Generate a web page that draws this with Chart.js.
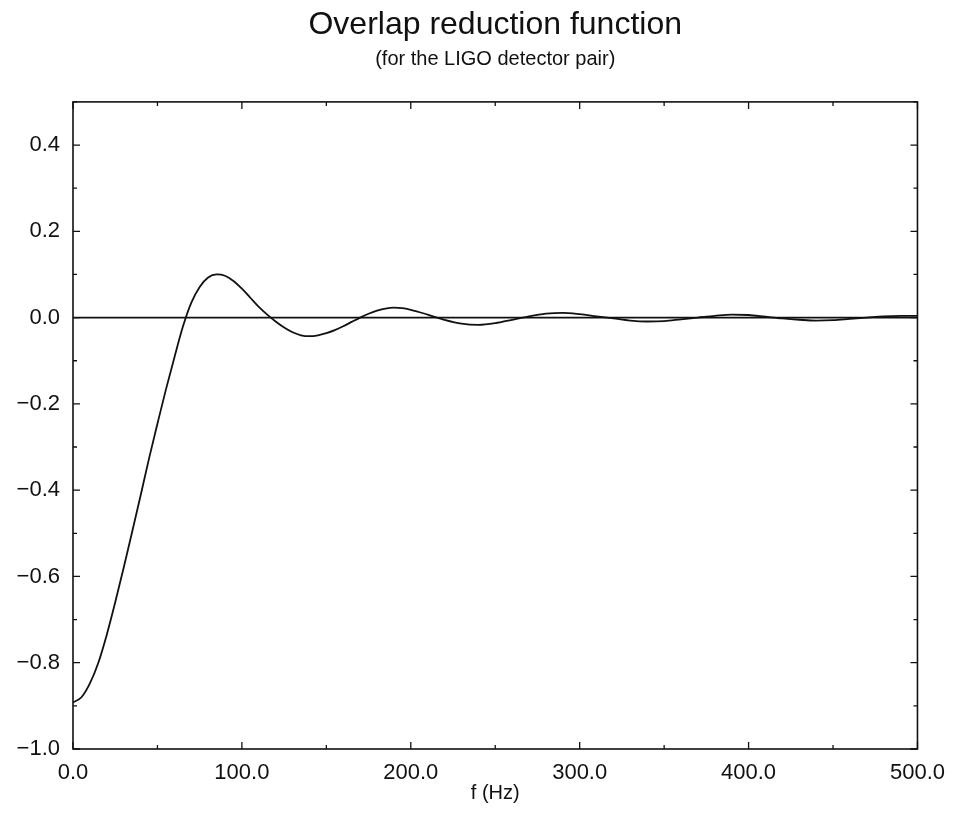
<!DOCTYPE html>
<html>
<head>
<meta charset="utf-8">
<title>Overlap reduction function</title>
<script src="https://cdn.jsdelivr.net/npm/chart.js@4.4.1/dist/chart.umd.min.js"></script>
<style>
  html, body { margin: 0; padding: 0; background: #fff; }
  #wrap { width: 956px; height: 825px; position: relative; }
</style>
</head>
<body>
<div id="wrap"><canvas id="orfChart"></canvas></div>
<script>
// frequency (Hz) and overlap reduction value gamma(f)
const freqs = [
  0, 5, 10, 15, 20, 25, 30, 35, 40, 45, 50, 55, 60, 65, 70, 75, 80, 85, 90, 95,
  100, 105, 110, 115, 120, 125, 130, 135, 140, 145, 150, 155, 160, 165, 170, 175,
  180, 185, 190, 195, 200, 210, 220, 230, 240, 250, 260, 270, 280, 290, 300, 310,
  320, 330, 340, 350, 360, 370, 380, 390, 400, 410, 420, 430, 440, 450, 460, 470,
  480, 490, 500
];
const gamma = [
  -0.892, -0.880, -0.848, -0.800, -0.735, -0.660, -0.580, -0.497, -0.413, -0.327,
  -0.246, -0.167, -0.093, -0.022, 0.034, 0.071, 0.093, 0.100, 0.097, 0.085,
  0.067, 0.046, 0.025, 0.007, -0.009, -0.023, -0.034, -0.041, -0.043, -0.041,
  -0.036, -0.029, -0.020, -0.010, 0.000, 0.009, 0.016, 0.021, 0.023, 0.022,
  0.018, 0.007, -0.005, -0.014, -0.017, -0.013, -0.005, 0.003, 0.009, 0.011,
  0.008, 0.003, -0.002, -0.007, -0.009, -0.008, -0.004, 0.000, 0.004, 0.007,
  0.006, 0.002, -0.002, -0.005, -0.007, -0.006, -0.003, 0.000, 0.003, 0.004,
  0.004
];

const xTicks = [0, 100, 200, 300, 400, 500];
const yTicks = [-1.0, -0.8, -0.6, -0.4, -0.2, 0.0, 0.2, 0.4];

const ink = '#111';
const fontFamily = '"Liberation Sans", Arial, Helvetica, sans-serif';

// box around the plot plus inward major/minor ticks on all four sides
const frameTicks = {
  id: 'frameTicks',
  afterDatasetsDraw(chart) {
    const { ctx, chartArea: a, scales: { x, y } } = chart;
    ctx.save();
    ctx.strokeStyle = ink;
    ctx.lineWidth = 1.6;
    ctx.strokeRect(a.left, a.top, a.right - a.left, a.bottom - a.top);
    ctx.lineWidth = 1.3;
    ctx.beginPath();
    for (let i = 0; i <= 10; i++) {
      const px = x.getPixelForValue(i * 50);
      const len = i % 2 === 0 ? 7 : 4;
      ctx.moveTo(px, a.bottom); ctx.lineTo(px, a.bottom - len);
      ctx.moveTo(px, a.top); ctx.lineTo(px, a.top + len);
    }
    for (let i = 0; i <= 15; i++) {
      const py = y.getPixelForValue(-1 + i * 0.1);
      const len = i % 2 === 0 ? 7 : 4;
      ctx.moveTo(a.left, py); ctx.lineTo(a.left + len, py);
      ctx.moveTo(a.right, py); ctx.lineTo(a.right - len, py);
    }
    ctx.stroke();
    ctx.restore();
  }
};

new Chart(document.getElementById('orfChart'), {
  type: 'line',
  data: {
    datasets: [
      {
        label: 'gamma',
        data: freqs.map((f, i) => ({ x: f, y: gamma[i] })),
        borderColor: ink,
        borderWidth: 1.8,
        pointRadius: 0,
        cubicInterpolationMode: 'monotone',
        fill: false,
      },
      {
        label: 'zero',
        data: [{ x: xTicks[0], y: 0 }, { x: xTicks[xTicks.length - 1], y: 0 }],
        borderColor: ink,
        borderWidth: 1.8,
        pointRadius: 0,
        fill: false,
      },
    ],
  },
  options: {
    responsive: true,
    maintainAspectRatio: false,
    animation: false,
    layout: { padding: { top: 0, right: 38, bottom: 0, left: 0 } },
    plugins: {
      legend: { display: false },
      tooltip: { enabled: false },
      title: {
        display: true,
        fullSize: false,
        text: 'Overlap reduction function',
        color: ink,
        font: { family: fontFamily, size: 32, weight: 'normal' },
        padding: { top: 6, bottom: 3 },
      },
      subtitle: {
        display: true,
        fullSize: false,
        text: '(for the LIGO detector pair)',
        color: ink,
        font: { family: fontFamily, size: 20, weight: 'normal' },
        padding: { top: 0, bottom: 30.5 },
      },
    },
    scales: {
      x: {
        type: 'linear',
        min: 0,
        max: 500,
        afterBuildTicks: (scale) => { scale.ticks = xTicks.map(v => ({ value: v })); },
        afterFit: (scale) => { scale.height = 76; },
        grid: { display: false, drawTicks: false },
        border: { display: false },
        ticks: {
          color: ink,
          padding: 11,
          maxRotation: 0,
          font: { family: fontFamily, size: 22 },
          callback: (v) => Number(v).toFixed(1),
        },
        title: {
          display: true,
          text: 'f (Hz)',
          color: ink,
          font: { family: fontFamily, size: 20 },
          padding: { top: 0, bottom: 20 },
        },
      },
      y: {
        type: 'linear',
        min: -1,
        max: 0.5,
        afterBuildTicks: (scale) => { scale.ticks = yTicks.map(v => ({ value: v })); },
        afterFit: (scale) => { scale.width = 73; },
        grid: { display: false, drawTicks: false },
        border: { display: false },
        ticks: {
          color: ink,
          padding: 13,
          font: { family: fontFamily, size: 22 },
          callback: (v) => (v < 0 ? '\u2212' + Math.abs(v).toFixed(1) : Number(v).toFixed(1)),
        },
      },
    },
  },
  plugins: [frameTicks],
});
</script>
</body>
</html>
